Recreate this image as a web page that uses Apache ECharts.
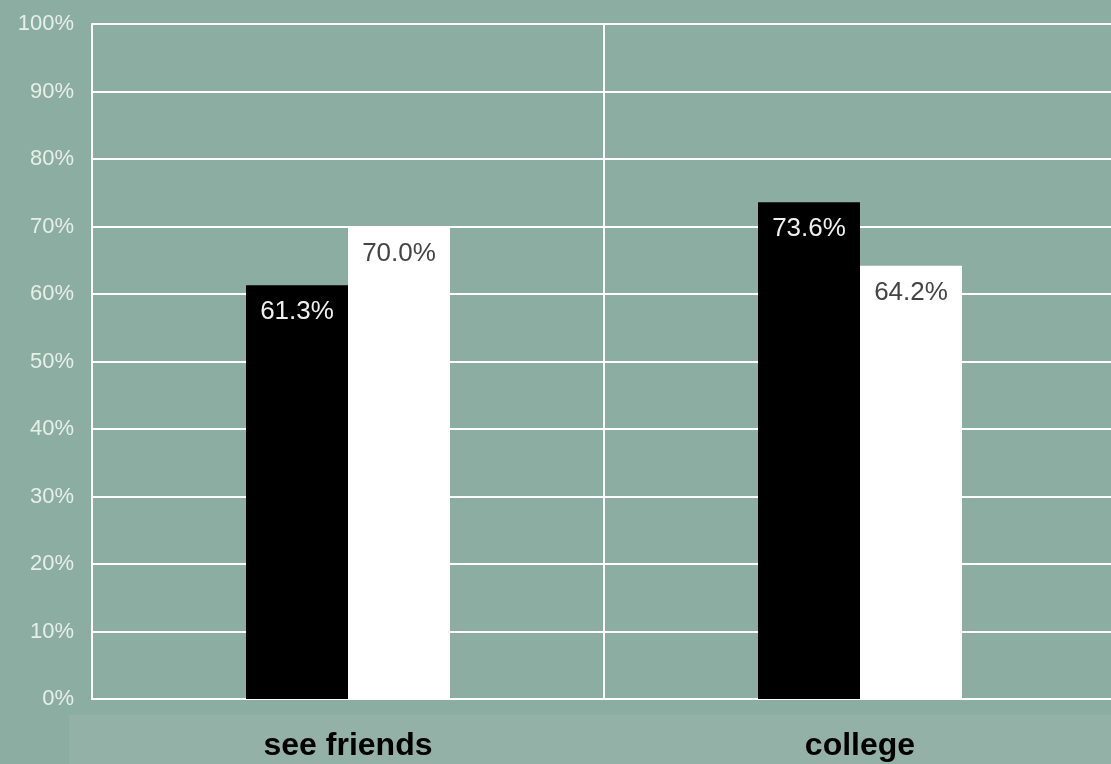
<!DOCTYPE html>
<html><head><meta charset="utf-8">
<script src="https://cdn.jsdelivr.net/npm/echarts@6/dist/echarts.min.js"></script>
<style>html,body{margin:0;padding:0;background:#8cada2;}#c{width:1111px;height:764px;}</style>
</head><body><div id="c"></div>
<script>
const categories = ['see friends', 'college'];
const seriesA = [61.3, 73.6];
const seriesB = [70.0, 64.2];
const yTicks = [0, 10, 20, 30, 40, 50, 60, 70, 80, 90, 100];

const chart = echarts.init(document.getElementById('c'));
const lbl = (color) => ({
  show: true, position: 'insideTop', distance: 14,
  formatter: p => p.value.toFixed(1) + '%',
  color: color, fontFamily: 'Liberation Sans', fontSize: 26
});
chart.setOption({
  backgroundColor: '#8cada2',
  animation: false,
  graphic: [{
    type: 'rect', left: 69, top: 715, z: -1,
    shape: { width: 1042, height: 49 },
    style: { fill: '#94b1a7' }
  }],
  grid: { left: 92, top: 24, width: 1024, height: 675, outerBoundsMode: 'none', containLabel: false },
  xAxis: {
    type: 'category', data: categories,
    axisLine: { show: true, lineStyle: { color: '#ffffff', width: 2 } },
    axisTick: { show: false },
    splitLine: { show: true, lineStyle: { color: '#ffffff', width: 2 } },
    axisLabel: { margin: 31, color: '#000', fontFamily: 'Liberation Sans', fontWeight: 'bold', fontSize: 32 }
  },
  yAxis: {
    type: 'value', min: yTicks[0], max: yTicks[yTicks.length - 1], interval: 10,
    axisLine: { show: true, lineStyle: { color: '#ffffff', width: 2 } },
    axisTick: { show: false },
    splitLine: { show: true, lineStyle: { color: '#ffffff', width: 2 } },
    axisLabel: { margin: 18, color: '#e8efeb', fontFamily: 'Liberation Sans', fontSize: 22, formatter: '{value}%' }
  },
  series: [
    { type: 'bar', data: seriesA, barWidth: 102, barGap: '0%',
      itemStyle: { color: '#000000' }, label: lbl('#f0f0f0') },
    { type: 'bar', data: seriesB, barWidth: 102,
      itemStyle: { color: '#ffffff' }, label: lbl('#444444') }
  ]
});
</script></body></html>
